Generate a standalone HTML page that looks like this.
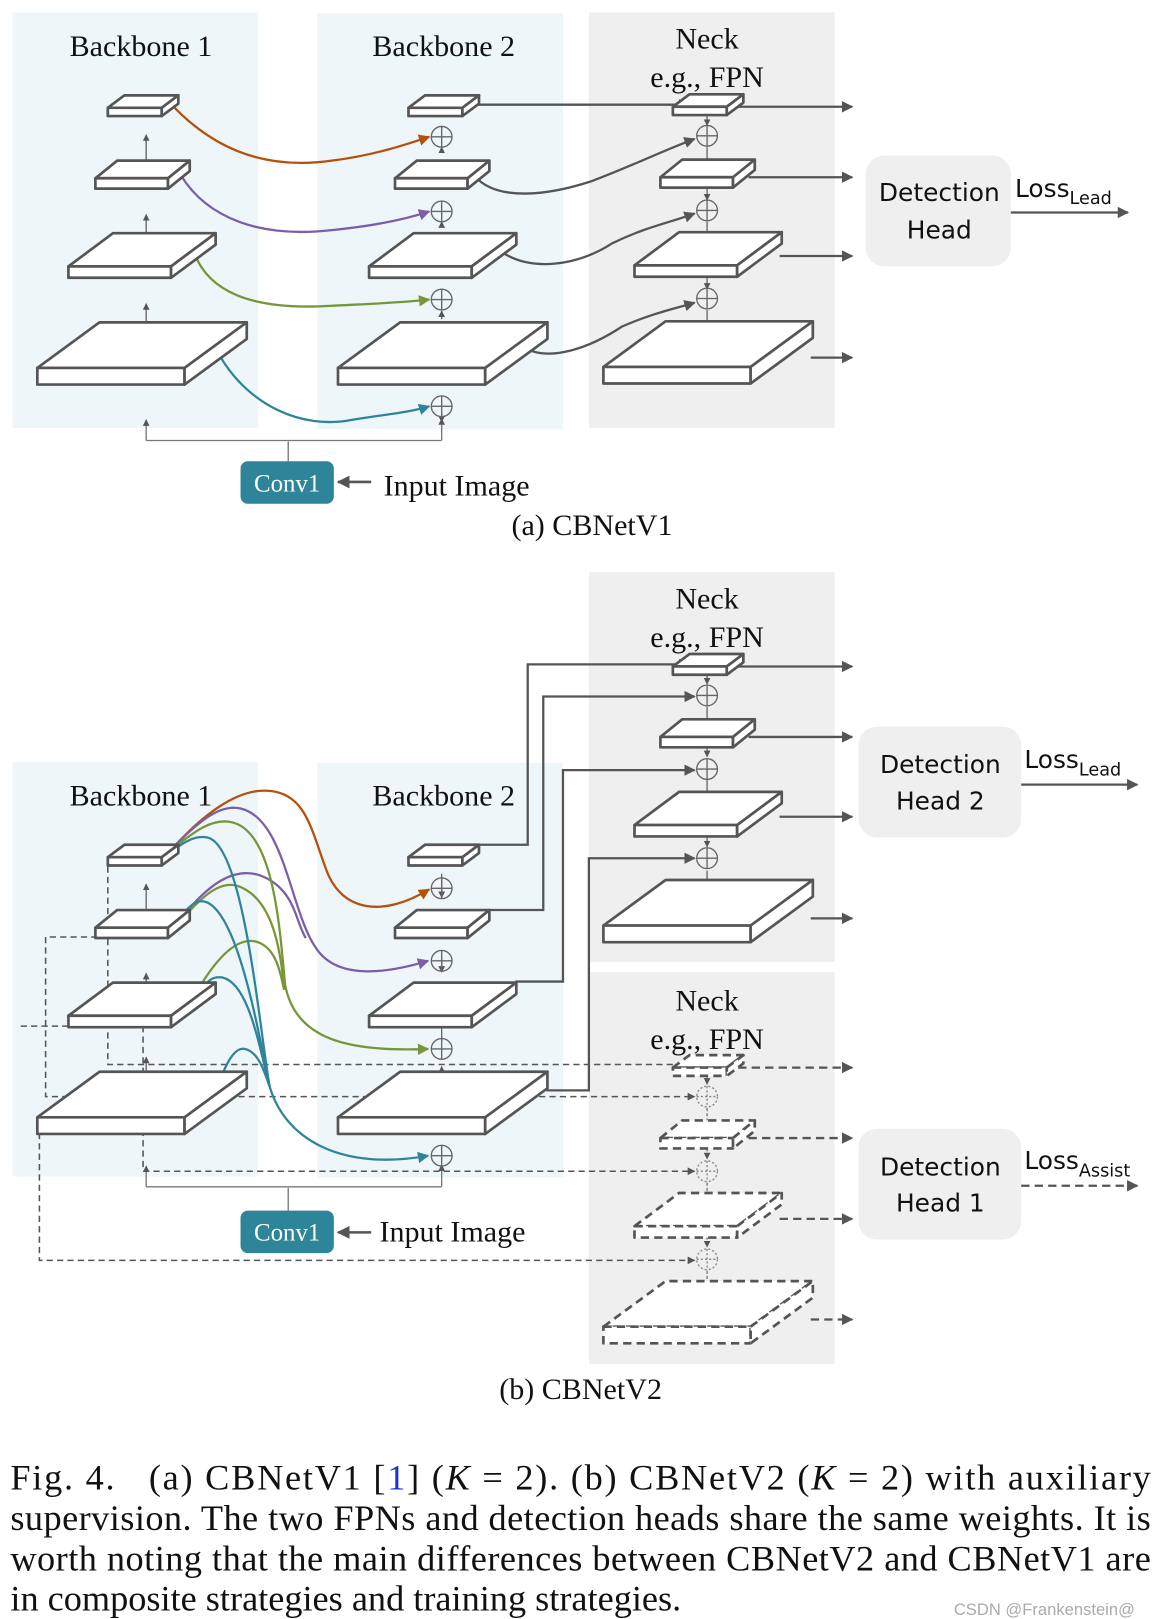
<!DOCTYPE html>
<html><head><meta charset="utf-8"><style>
html,body{margin:0;padding:0;background:#fff;}
svg{display:block;}
.t{font-family:"Liberation Serif",serif;fill:#111;}
.s{font-family:"DejaVu Sans","Liberation Sans",sans-serif;fill:#111;}
</style></head><body>
<svg id="g" width="1156" height="1619" viewBox="0 0 1115 1562" preserveAspectRatio="none" xmlns="http://www.w3.org/2000/svg">
<defs>
<marker id="a" viewBox="0 0 10 10" refX="9" refY="5" markerWidth="5" markerHeight="5" orient="auto"><path d="M0,0L10,5L0,10z" fill="#555"/></marker>
<marker id="ao" viewBox="0 0 10 10" refX="9" refY="5" markerWidth="5" markerHeight="5" orient="auto"><path d="M0,0L10,5L0,10z" fill="#b5500d"/></marker>
<marker id="ap" viewBox="0 0 10 10" refX="9" refY="5" markerWidth="5" markerHeight="5" orient="auto"><path d="M0,0L10,5L0,10z" fill="#7b5ea7"/></marker>
<marker id="ag" viewBox="0 0 10 10" refX="9" refY="5" markerWidth="5" markerHeight="5" orient="auto"><path d="M0,0L10,5L0,10z" fill="#76963a"/></marker>
<marker id="at" viewBox="0 0 10 10" refX="9" refY="5" markerWidth="5" markerHeight="5" orient="auto"><path d="M0,0L10,5L0,10z" fill="#2e8599"/></marker>
</defs>
<rect x="12" y="12" width="237" height="401" fill="#eef6fa"/>
<rect x="306" y="13" width="237" height="401" fill="#eef6fa"/>
<rect x="568" y="12" width="237" height="401" fill="#efefef"/>
<rect x="12" y="735" width="237" height="400" fill="#eef6fa"/>
<rect x="306" y="736" width="237" height="400" fill="#eef6fa"/>
<rect x="568" y="552" width="237" height="376" fill="#efefef"/>
<rect x="568" y="938" width="237" height="378" fill="#efefef"/>
<rect x="835" y="150" width="140" height="107" rx="18" fill="#efefef"/>
<rect x="828" y="701" width="157" height="107" rx="18" fill="#efefef"/>
<rect x="828" y="1089" width="157" height="107" rx="18" fill="#efefef"/>
<g id="lines"></g>
<g id="shapes"></g>
<g class="t" font-size="29" text-anchor="middle">
<text x="136" y="54">Backbone 1</text>
<text x="428" y="54">Backbone 2</text>
<text x="682" y="47">Neck</text>
<text x="682" y="84">e.g., FPN</text>
<text x="136" y="777">Backbone 1</text>
<text x="428" y="777">Backbone 2</text>
<text x="682" y="587">Neck</text>
<text x="682" y="624">e.g., FPN</text>
<text x="682" y="975">Neck</text>
<text x="682" y="1012">e.g., FPN</text>
<text x="571" y="516">(a) CBNetV1</text>
<text x="560" y="1350">(b) CBNetV2</text>
</g>
<g class="t" font-size="29">
<text x="370" y="478">Input Image</text>
<text x="366" y="1198">Input Image</text>
</g>
<g class="s" font-size="24" text-anchor="middle">
<text x="906" y="194">Detection</text>
<text x="906" y="230">Head</text>
<text x="907" y="746">Detection</text>
<text x="907" y="781">Head 2</text>
<text x="907" y="1134">Detection</text>
<text x="907" y="1169">Head 1</text>
</g>
<g class="s" font-size="24">
<text x="979" y="190">Loss<tspan font-size="17" dy="7">Lead</tspan></text>
<text x="988" y="741">Loss<tspan font-size="17" dy="7">Lead</tspan></text>
<text x="988" y="1128">Loss<tspan font-size="17" dy="7">Assist</tspan></text>
</g>
<rect x="232" y="445" width="90" height="41" rx="7" fill="#2e8599"/>
<rect x="232" y="1168" width="90" height="41" rx="7" fill="#2e8599"/>
<g font-family="Liberation Serif,serif" font-size="24" fill="#fff" text-anchor="middle">
<text x="277" y="474">Conv1</text>
<text x="277" y="1197">Conv1</text>
</g>
<g class="t" font-size="35">
<text x="10" y="1437" textLength="1100" lengthAdjust="spacing">Fig. 4.&#160;&#160;&#160;(a) CBNetV1 [<tspan fill="#1a33cc">1</tspan>] (<tspan font-style="italic">K</tspan> = 2). (b) CBNetV2 (<tspan font-style="italic">K</tspan> = 2) with auxiliary</text>
<text x="10" y="1476" textLength="1100" lengthAdjust="spacing">supervision. The two FPNs and detection heads share the same weights. It is</text>
<text x="10" y="1515" textLength="1100" lengthAdjust="spacing">worth noting that the main differences between CBNetV2 and CBNetV1 are</text>
<text x="10" y="1554">in composite strategies and training strategies.</text>
</g>
<text x="920" y="1558" font-family="Liberation Sans,sans-serif" font-size="16" fill="#aaa">CSDN @Frankenstein@</text>
</svg>
<script>
var NS="http://www.w3.org/2000/svg";
var L=document.getElementById("lines"),S=document.getElementById("shapes");
function el(p,t,a){var e=document.createElementNS(NS,t);for(var k in a)e.setAttribute(k,a[k]);p.appendChild(e);return e;}
function path(d,c,w,m,dash){var a={d:d,fill:"none",stroke:c||"#555","stroke-width":w||2};if(m)a["marker-end"]="url(#"+m+")";if(dash)a["stroke-dasharray"]=dash;return el(L,"path",a);}
function slab(x,y,w,h,dx,dy,dash){var a={fill:"#fff",stroke:"#555","stroke-width":2.6,"stroke-linejoin":"round"};if(dash)a["stroke-dasharray"]="8 5";
el(S,"polygon",Object.assign({points:[x,y,x+dx,y-dy,x+w+dx,y-dy,x+w,y].join(" ")},a));
el(S,"rect",Object.assign({x:x,y:y,width:w,height:h},a));
el(S,"polygon",Object.assign({points:[x+w,y,x+w+dx,y-dy,x+w+dx,y-dy+h,x+w,y+h].join(" ")},a));}
var D=[[52,8,16,12],[70,10,21,17],[99,11,43,32],[142,16,60,44]];
function col(xs,ys,dash){for(var i=0;i<4;i++)slab(xs[i],ys[i],D[i][0],D[i][1],D[i][2],D[i][3],dash);}
function circ(x,y,dash){var a={fill:"none",stroke:dash?"#888":"#666","stroke-width":1.3};if(dash)a["stroke-dasharray"]="2 2";
el(S,"circle",Object.assign({cx:x,cy:y,r:10,fill:"#fff"},a));el(S,"path",Object.assign({d:"M"+(x-10)+" "+y+"H"+(x+10)+"M"+x+" "+(y-10)+"V"+(y+10)},a));}
var B1=[104,92,66,36],B2=[394,381,356,326],NK=[649,637,612,582];
col(B1,[104,172,257,355]);col(B2,[104,172,257,355]);col(NK,[103,171,256,354]);
[132,204,289,392].forEach(function(y){circ(426,y)});[131,203,288].forEach(function(y){circ(682,y)});
[[172,130],[241,207],[330,293]].forEach(function(p){path("M141 "+p[0]+"V"+p[1],"#666",1.3,"a")});
[[399,407],[308,300],[219,214],[146,142]].forEach(function(p){path("M426 "+p[0]+"V"+p[1],"#666",1.3,"a")});
[[112,121],[142,166],[182,193],[214,238],[267,279],[299,334]].forEach(function(p){path("M682 "+p[0]+"V"+p[1],"#666",1.3,"a")});
path("M160 95C200 140,250 165,320 155C360 150,390 140,414 132","#b5500d",2.2,"ao");
path("M175 170C200 210,250 230,320 222C360 218,390 212,414 204","#7b5ea7",2.2,"ap");
path("M187 243C200 280,240 300,320 295C360 293,390 292,414 289","#76963a",2.2,"ag");
path("M213 345C240 390,290 415,340 405C370 400,395 398,414 392","#2e8599",2.2,"at");
path("M458 170C480 195,530 188,570 175C610 160,640 145,670 134","#555",2.2,"a");
path("M480 240C510 265,560 255,590 235C620 220,645 215,670 206","#555",2.2,"a");
path("M505 335C530 350,570 335,600 315C630 302,650 298,670 292","#555",2.2,"a");
path("M458 101H665","#555",2.2,"a");
[[712,103],[722,171],[752,247],[782,345]].forEach(function(p){path("M"+p[0]+" "+p[1]+"H822","#555",2.2,"a")});
path("M975 205H1088","#555",2.2,"a");
path("M141 425H426M278 445V426","#777",1.3);path("M141 425V405","#777",1.3,"a");path("M426 425V404","#777",1.3,"a");
path("M358 465H326","#555",2.5,"a");
col(B1,[827,895,980,1078]);col(B2,[827,895,980,1078]);col(NK,[643,711,796,893]);col(NK,[1030,1098,1183,1280],true);
[857,927,1012,1115].forEach(function(y){circ(426,y)});[671,742,828].forEach(function(y){circ(682,y)});[1058,1130,1215].forEach(function(y){circ(682,y,true)});
[[895,853],[980,939],[1078,1020]].forEach(function(p){path("M141 "+p[0]+"V"+p[1],"#666",1.3,"a")});
[[1094,1029],[1005,965],[922,938],[843,866]].forEach(function(p){path("M426 "+p[0]+"V"+p[1],"#666",1.3,"a")});
[[652,660],[682,705],[722,730],[752,776],[808,817],[840,877]].forEach(function(p){path("M682 "+p[0]+"V"+p[1],"#666",1.3,"a")});
[[1039,1046],[1069,1092],[1108,1118],[1141,1164],[1193,1203],[1226,1262]].forEach(function(p){path("M682 "+p[0]+"V"+p[1],"#777",1.3,"a","3 2")});
path("M458 815H509V641H665","#555",2.2,"a");
path("M472 878H524V672H670","#555",2.2,"a");
path("M497 947H543V743H670","#555",2.2,"a");
path("M527 1052H568V828H670","#555",2.2,"a");
[[712,643],[722,711],[752,788],[782,886]].forEach(function(p){path("M"+p[0]+" "+p[1]+"H822","#555",2.2,"a")});
[[712,1030],[722,1098],[752,1176],[782,1273]].forEach(function(p){path("M"+p[0]+" "+p[1]+"H822","#555",2.2,"a","8 5")});
path("M985 757H1097","#555",2.2,"a");path("M985 1144H1097","#555",2.2,"a","8 5");
var dd="6 4";
path("M104 836V1027H665","#555",1.5,"a",dd);
path("M94 904H44V1058H670","#555",1.5,"a",dd);
path("M20 990H66","#555",1.5,null,dd);
path("M138 990V1130H670","#555",1.5,"a",dd);
path("M38 1093V1216H670","#555",1.5,"a",dd);
path("M141 1145H426M278 1168V1146","#777",1.3);path("M141 1145V1125","#777",1.3,"a");path("M426 1145V1124","#777",1.3,"a");
path("M358 1189H326","#555",2.5,"a");
path("M160 826C195 785,230 760,260 763C295 766,300 800,315 840C330 880,370 885,414 858","#b5500d",2.2,"ao");
path("M162 822C190 795,210 775,232 780C275 790,280 880,305 915C325 945,370 940,413 927","#7b5ea7",2.2,"ap");
path("M178 882C200 855,225 835,252 845C285 858,285 890,295 905","#7b5ea7",2.2);
path("M165 820C190 800,205 790,222 793C265 800,270 900,275 950C285 1005,340 1015,413 1012","#76963a",2.2,"ag");
path("M182 880C200 860,215 850,230 855C265 868,270 920,274 950","#76963a",2.2);
path("M188 960C205 930,225 905,245 908C265 912,270 935,274 955","#76963a",2.2);
path("M165 822C180 810,190 806,200 808C235 815,250 990,260 1048C275 1100,330 1130,413 1115","#2e8599",2.2,"at");
path("M176 882C185 872,190 868,198 870C230 880,250 1000,260 1048","#2e8599",2.2);
path("M192 960C200 945,205 942,214 943C240 948,250 1010,260 1048","#2e8599",2.2);
path("M209 1052C216 1030,225 1010,236 1012C250 1015,255 1035,260 1048","#2e8599",2.2);
</script>
</body></html>
